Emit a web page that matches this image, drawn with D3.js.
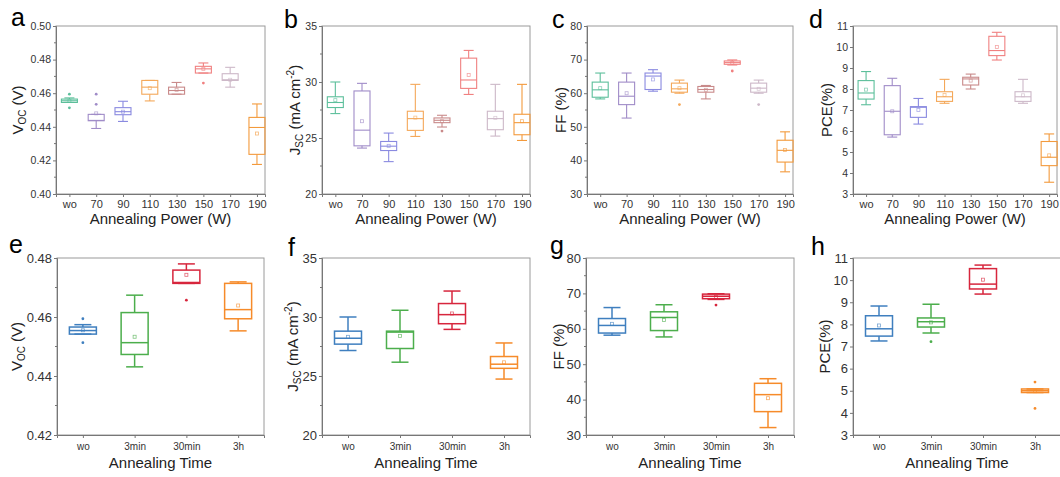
<!DOCTYPE html>
<html>
<head>
<meta charset="utf-8">
<script src="https://cdn.jsdelivr.net/npm/d3@7"></script>
<style>
  body { margin: 0; background: #fff; }
  svg { font-family: Arial, "Liberation Sans", sans-serif; }
</style>
</head>
<body>
<svg id="chart" width="1060" height="477"></svg>
<script>
// categories
const powerCats = ["wo", "70", "90", "110", "130", "150", "170", "190"];
const timeCats = ["wo", "3min", "30min", "3h"];
const powerColors = ["#5cbf9b", "#a08cc8", "#8a8ae0", "#f4a85a", "#c98a8a", "#f08080", "#cdb8c8", "#f39a3c"];
const timeColors = ["#3f7fbf", "#4cae4c", "#d7263d", "#f68b2a"];

// box stats: [whiskerLow, q1, median, q3, whiskerHigh, mean]
const vocPower = [
  [0.4545, 0.4545, 0.4555, 0.4565, 0.4572, 0.4555],
  [0.4390, 0.4436, 0.4438, 0.4474, 0.4474, 0.4480],
  [0.4432, 0.4472, 0.4490, 0.4514, 0.4552, 0.4490],
  [0.4554, 0.4594, 0.4636, 0.4676, 0.4676, 0.4630],
  [0.4594, 0.4594, 0.4616, 0.4636, 0.4664, 0.4620],
  [0.4720, 0.4720, 0.4745, 0.4760, 0.4780, 0.4745],
  [0.4636, 0.4676, 0.4680, 0.4716, 0.4754, 0.4680],
  [0.4176, 0.4236, 0.4396, 0.4456, 0.4536, 0.4360]
];
const vocPowerOut = [[0.4594, 0.4513], [0.4594, 0.4534], [], [], [], [0.4660], [], []];

const jscPower = [
  [27.18, 27.72, 28.17, 28.68, 30.00, 28.38],
  [24.10, 24.30, 25.70, 29.20, 29.88, 26.50],
  [22.89, 23.88, 24.27, 24.69, 25.44, 24.30],
  [25.14, 25.68, 26.73, 27.39, 29.79, 26.82],
  [25.98, 26.37, 26.58, 26.79, 27.03, 26.50],
  [28.89, 29.43, 30.18, 32.13, 32.82, 30.63],
  [25.17, 25.74, 26.73, 27.39, 29.79, 26.80],
  [24.78, 25.29, 26.37, 27.12, 29.79, 26.50]
];
const jscPowerOut = [[], [], [], [], [25.62], [], [], []];

const ffPower = [
  [58.3, 58.8, 61.0, 63.3, 66.0, 61.5],
  [52.6, 56.6, 59.1, 63.3, 66.0, 60.0],
  [60.6, 61.1, 65.1, 66.0, 67.0, 64.1],
  [60.0, 60.3, 61.3, 63.0, 63.9, 61.5],
  [58.3, 60.3, 61.1, 62.0, 62.3, 61.0],
  [68.4, 68.6, 69.1, 69.6, 69.9, 69.0],
  [60.0, 60.3, 61.5, 63.0, 63.9, 61.3],
  [36.6, 39.5, 43.0, 46.0, 48.5, 43.1]
];
const ffPowerOut = [[], [], [], [56.6], [], [66.6], [56.6], []];

const pcePower = [
  [7.25, 7.52, 7.81, 8.40, 8.83, 7.97],
  [5.71, 5.82, 6.94, 8.16, 8.51, 6.94],
  [6.33, 6.65, 7.13, 7.16, 7.55, 7.00],
  [7.32, 7.41, 7.63, 7.87, 8.46, 7.71],
  [8.00, 8.19, 8.48, 8.56, 8.71, 8.40],
  [9.38, 9.59, 9.83, 10.51, 10.70, 10.00],
  [7.32, 7.41, 7.63, 7.87, 8.46, 7.70],
  [3.56, 4.35, 4.75, 5.50, 5.86, 4.84]
];
const pcePowerOut = [[], [], [], [], [], [], [], []];

const vocTime = [
  [0.4542, 0.4542, 0.4554, 0.4566, 0.4574, 0.4555],
  [0.4431, 0.4473, 0.4513, 0.4615, 0.4674, 0.4533],
  [0.4714, 0.4714, 0.4717, 0.4759, 0.4780, 0.4743],
  [0.4553, 0.4594, 0.4625, 0.4714, 0.4719, 0.4639]
];
const vocTimeOut = [[0.4594, 0.4513], [], [0.4657], []];

const jscTime = [
  [27.16, 27.70, 28.20, 28.80, 30.00, 28.32],
  [26.17, 27.33, 28.72, 28.80, 30.57, 28.40],
  [28.95, 29.43, 30.20, 31.14, 32.20, 30.30],
  [24.74, 25.65, 26.00, 26.65, 27.80, 26.16]
];
const jscTimeOut = [[], [], [], []];

const ffTime = [
  [58.2, 58.8, 60.95, 62.9, 66.0, 61.4],
  [57.7, 59.5, 63.2, 64.8, 66.8, 62.5],
  [68.3, 68.5, 69.2, 69.8, 69.9, 69.0],
  [32.1, 36.6, 41.4, 44.6, 45.9, 40.4]
];
const ffTimeOut = [[], [], [66.7], []];

const pceTime = [
  [7.25, 7.47, 7.80, 8.39, 8.83, 7.95],
  [7.61, 7.88, 8.12, 8.29, 8.91, 8.09],
  [9.37, 9.60, 9.82, 10.52, 10.68, 10.02],
  [4.92, 4.92, 5.00, 5.08, 5.08, 4.98]
];
const pceTimeOut = [[], [7.22], [], [5.39, 4.20]];

// y axes
const vocPowerTicks = [0.40, 0.42, 0.44, 0.46, 0.48, 0.50];
const vocTimeTicks = [0.42, 0.44, 0.46, 0.48];
const jscTicks = [20, 25, 30, 35];
const ffTicks = [30, 40, 50, 60, 70, 80];
const pceTicks = [3, 4, 5, 6, 7, 8, 9, 10, 11];

const voc = [["V"], ["OC", "sub"], [" (V)"]];
const jsc = [["J"], ["SC", "sub"], [" (mA cm"], ["-2", "sup"], [")"]];
const ff = [["FF (%)"]];
const pce = [["PCE(%)"]];

const svg = d3.select("#chart");

const panels = [
  { letter: "a", lx: 11, ly: 26, left: 56, top: 26, width: 209, height: 168, cats: powerCats, colors: powerColors, stats: vocPower, outs: vocPowerOut, ticks: vocPowerTicks, minor: 0.01, fmt: d3.format(".2f"), title: voc, tx: -33, row: 0 },
  { letter: "b", lx: 284, ly: 28, left: 322, top: 26, width: 208, height: 168, cats: powerCats, colors: powerColors, stats: jscPower, outs: jscPowerOut, ticks: jscTicks, minor: 2.5, fmt: d3.format("d"), title: jsc, tx: -22, row: 0 },
  { letter: "c", lx: 552, ly: 28, left: 587, top: 26, width: 206, height: 168, cats: powerCats, colors: powerColors, stats: ffPower, outs: ffPowerOut, ticks: ffTicks, minor: 5, fmt: d3.format("d"), title: ff, tx: -21, row: 0 },
  { letter: "d", lx: 809, ly: 28, left: 853, top: 26, width: 204, height: 168, cats: powerCats, colors: powerColors, stats: pcePower, outs: pcePowerOut, ticks: pceTicks, minor: null, fmt: d3.format("d"), title: pce, tx: -21, row: 0 },
  { letter: "e", lx: 9, ly: 253, left: 57, top: 258, width: 207, height: 177, cats: timeCats, colors: timeColors, stats: vocTime, outs: vocTimeOut, ticks: vocTimeTicks, minor: 0.01, fmt: d3.format(".2f"), title: voc, tx: -35, row: 1 },
  { letter: "f", lx: 288, ly: 256, left: 322, top: 258, width: 208, height: 177, cats: timeCats, colors: timeColors, stats: jscTime, outs: jscTimeOut, ticks: jscTicks, minor: 2.5, fmt: d3.format("d"), title: jsc, tx: -24, row: 1 },
  { letter: "g", lx: 550, ly: 254, left: 586, top: 258, width: 208, height: 177, cats: timeCats, colors: timeColors, stats: ffTime, outs: ffTimeOut, ticks: ffTicks, minor: 5, fmt: d3.format("d"), title: ff, tx: -22, row: 1 },
  { letter: "h", lx: 811, ly: 255, left: 853, top: 258, width: 208, height: 177, cats: timeCats, colors: timeColors, stats: pceTime, outs: pceTimeOut, ticks: pceTicks, minor: null, fmt: d3.format("d"), title: pce, tx: -23, row: 1 }
];

panels.forEach(p => {
  const n = p.cats.length;
  const x = p.row === 0
    ? d3.scaleLinear().domain([-0.5, n - 0.7]).range([0, p.width])
    : d3.scaleLinear().domain([-0.5, n - 0.5]).range([0, p.width]);
  const y = d3.scaleLinear().domain(d3.extent(p.ticks)).range([p.height, 0]);
  const boxW = p.row === 0 ? 16 : 27;
  const capW = p.row === 0 ? 10 : 17;
  const sw = p.row === 0 ? 1.1 : 1.5;
  const tickFont = p.row === 0 ? 10.5 : 13;
  const xFont = p.row === 0 ? 11 : 10;

  svg.append("text").attr("x", p.lx).attr("y", p.ly)
    .attr("font-size", 25).attr("fill", "#000").text(p.letter);

  const g = svg.append("g").attr("transform", `translate(${p.left},${p.top})`);

  // frame
  g.append("rect").attr("width", p.width).attr("height", p.height)
    .attr("fill", "none").attr("stroke", "#9a9a9a").attr("stroke-width", 1);

  // y axis
  const yAxis = g.append("g").call(d3.axisLeft(y).tickValues(p.ticks).tickFormat(p.fmt).tickSize(3).tickPadding(2));
  yAxis.select(".domain").attr("stroke", "#777");
  yAxis.selectAll(".tick line").attr("stroke", "#777");
  yAxis.selectAll("text").attr("font-size", tickFont).attr("fill", "#333");
  if (p.minor) {
    const [lo, hi] = d3.extent(p.ticks);
    const minorTicks = d3.range(lo + p.minor, hi, p.minor * 2);
    g.selectAll(".minor").data(minorTicks).enter().append("line")
      .attr("x1", -2).attr("x2", 0)
      .attr("y1", d => y(d)).attr("y2", d => y(d))
      .attr("stroke", "#777");
  }

  // x axis
  const xAxis = g.append("g").attr("transform", `translate(0,${p.height})`)
    .call(d3.axisBottom(x).tickValues(d3.range(n)).tickFormat(i => p.cats[i]).tickSize(3).tickPadding(p.row === 0 ? 3 : 5));
  xAxis.select(".domain").attr("stroke", "#777");
  xAxis.selectAll(".tick line").attr("stroke", "#777");
  xAxis.selectAll("text").attr("font-size", xFont).attr("fill", "#333");

  // x title
  g.append("text").attr("x", p.width / 2).attr("y", p.height + (p.row === 0 ? 30 : 33))
    .attr("text-anchor", "middle").attr("font-size", 15).attr("fill", "#222")
    .text(p.row === 0 ? "Annealing Power (W)" : "Annealing Time");

  // y title
  const yt = g.append("text").attr("transform", `translate(${p.tx},${p.height / 2}) rotate(-90)`)
    .attr("text-anchor", "middle").attr("font-size", 15).attr("fill", "#222");
  p.title.forEach(([t, kind], i) => {
    const prev = i > 0 ? p.title[i - 1][1] : null;
    const ts = yt.append("tspan").text(t);
    if (kind === "sub") ts.attr("font-size", 10).attr("dy", 3);
    else if (kind === "sup") ts.attr("font-size", 10).attr("dy", -6);
    else if (prev === "sub") ts.attr("dy", -3);
    else if (prev === "sup") ts.attr("dy", 6);
  });

  // boxes
  p.stats.forEach((s, i) => {
    const [wl, q1, med, q3, wh, mean] = s;
    const cx = x(i);
    const c = p.colors[i];
    const bg = g.append("g").attr("stroke", c).attr("stroke-width", sw).attr("fill", "none");
    bg.append("line").attr("x1", cx).attr("x2", cx).attr("y1", y(wh)).attr("y2", y(q3));
    bg.append("line").attr("x1", cx).attr("x2", cx).attr("y1", y(q1)).attr("y2", y(wl));
    bg.append("line").attr("x1", cx - capW / 2).attr("x2", cx + capW / 2).attr("y1", y(wh)).attr("y2", y(wh));
    bg.append("line").attr("x1", cx - capW / 2).attr("x2", cx + capW / 2).attr("y1", y(wl)).attr("y2", y(wl));
    bg.append("rect").attr("x", cx - boxW / 2).attr("width", boxW)
      .attr("y", y(q3)).attr("height", Math.max(0.5, y(q1) - y(q3)));
    bg.append("line").attr("x1", cx - boxW / 2).attr("x2", cx + boxW / 2).attr("y1", y(med)).attr("y2", y(med));
    bg.append("rect").attr("x", cx - 1.5).attr("y", y(mean) - 1.5).attr("width", 3).attr("height", 3)
      .attr("stroke-width", 0.8).attr("stroke-opacity", 0.7);
    p.outs[i].forEach(o => {
      g.append("circle").attr("cx", cx).attr("cy", y(o)).attr("r", 1.4).attr("fill", c);
    });
  });
});
</script>
</body>
</html>
